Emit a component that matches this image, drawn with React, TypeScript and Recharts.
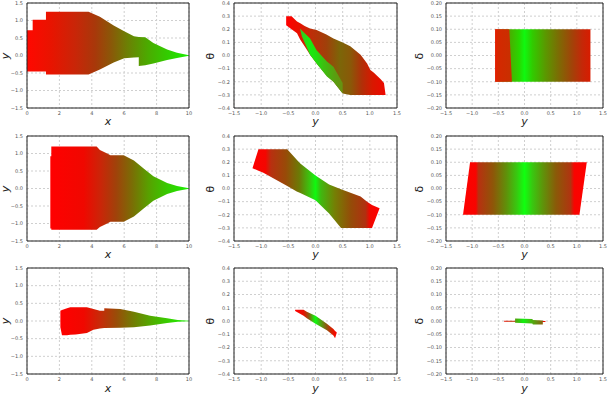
import React from 'react';
import { ComposedChart, Area, XAxis, YAxis, CartesianGrid, ReferenceArea } from 'recharts';

type Pt = [number, number, number];
type Stop = [number, string];

// ---- tick labels ----
const xTicksCol1 = [0, 2, 4, 6, 8, 10];
const yTicksCol1 = [-1.5, -1, -0.5, 0, 0.5, 1, 1.5];
const yTicksRow = [-1.5, -1, -0.5, 0, 0.5, 1, 1.5];
const thetaTicks = [-0.4, -0.3, -0.2, -0.1, 0, 0.1, 0.2, 0.3, 0.4];
const deltaTicks = [-0.2, -0.15, -0.1, -0.05, 0, 0.05, 0.1, 0.15, 0.2];

// ---- shapes: [abscissa, lower, upper] ----
const r1c1Shape: Pt[] = [
  [0, -0.46, 0.72], [0.35, -0.46, 0.72], [0.35, -0.46, 1.02], [1.17, -0.46, 1.02],
  [1.17, -0.54, 1.25], [3.8, -0.54, 1.25], [4.5, -0.4, 1.11], [5.35, -0.2, 0.86],
  [6.0, -0.08, 0.69], [6.6, -0.06, 0.55], [6.9, -0.05, 0.53], [6.9, -0.3, 0.53],
  [7.3, -0.28, 0.52], [7.8, -0.23, 0.36], [8.65, -0.13, 0.17], [9.26, -0.07, 0.08],
  [10, -0.01, 0.01],
];
const r2c1Shape: Pt[] = [
  [1.44, -1.14, 0.92], [1.5, -1.14, 0.92], [1.5, -1.18, 1.2], [4.3, -1.18, 1.2],
  [4.5, -1.1, 1.1], [4.95, -1.0, 1.0], [5.15, -0.95, 0.95], [5.97, -0.95, 0.95],
  [6.6, -0.8, 0.8], [7.2, -0.57, 0.57], [7.8, -0.35, 0.35], [8.65, -0.16, 0.16],
  [9.26, -0.07, 0.07], [10, -0.01, 0.01],
];
const r3c1Shape: Pt[] = [
  [2.06, -0.18, 0.29], [2.16, -0.4, 0.31], [2.47, -0.4, 0.36], [2.67, -0.39, 0.39],
  [3.0, -0.38, 0.39], [3.7, -0.34, 0.39], [4.1, -0.25, 0.34], [4.5, -0.21, 0.29],
  [4.77, -0.2, 0.29], [4.77, -0.2, 0.36], [5.76, -0.19, 0.34], [6.6, -0.18, 0.26],
  [7.6, -0.13, 0.15], [8.65, -0.06, 0.08], [9.3, -0.02, 0.03], [10, -0.005, 0.01],
];
const r1c2Outer: Pt[] = [
  [-0.54, 0.23, 0.3], [-0.44, 0.2, 0.3], [-0.34, 0.17, 0.26], [-0.28, 0.12, 0.245],
  [-0.2, 0.07, 0.225], [-0.1, 0.005, 0.205], [0.02, -0.06, 0.195], [0.2, -0.15, 0.16],
  [0.33, -0.2, 0.13], [0.5, -0.29, 0.1], [0.64, -0.3, 0.07], [0.83, -0.3, 0.005],
  [0.95, -0.3, -0.06], [1.01, -0.3, -0.11], [1.07, -0.3, -0.13], [1.2, -0.3, -0.18],
  [1.26, -0.3, -0.21], [1.29, -0.3, -0.3],
];
const r1c2Inner: Pt[] = [
  [-0.28, 0.195, 0.205], [-0.25, 0.145, 0.19], [-0.1, 0.005, 0.13], [0.02, -0.06, 0.04],
  [0.21, -0.16, -0.045], [0.33, -0.2, -0.085], [0.5, -0.29, -0.21],
];
const r2c2Shape: Pt[] = [
  [-1.16, 0.155, 0.155], [-1.05, 0.135, 0.3], [-0.96, 0.12, 0.3], [-0.52, 0.02, 0.3],
  [-0.345, -0.023, 0.22], [-0.28, -0.035, 0.19], [0.0, -0.09, 0.1], [0.25, -0.19, 0.03],
  [0.47, -0.3, -0.005], [0.83, -0.3, -0.06], [0.95, -0.3, -0.1], [1.04, -0.3, -0.125],
  [1.18, -0.15, -0.15],
];
const r3c2Shape: Pt[] = [
  [-0.375, 0.075, 0.085], [-0.22, 0.04, 0.085], [-0.16, 0.02, 0.07], [0.0, -0.02, 0.04],
  [0.21, -0.07, -0.02], [0.33, -0.11, -0.06], [0.36, -0.13, -0.075], [0.39, -0.09, -0.085],
];
const r1c3Rect: Pt[] = [[-0.56, -0.1, 0.1], [1.26, -0.1, 0.1]];
const r1c3Strip: Pt[] = [[-0.56, -0.1, 0.1], [-0.29, -0.1, 0.1], [-0.24, -0.1, -0.1]];
const r2c3Shape: Pt[] = [[-1.175, -0.1, -0.1], [-1.04, -0.1, 0.1], [1.05, -0.1, 0.1], [1.19, 0.1, 0.1]];
const r3c3Line: Pt[] = [[-0.39, -0.003, 0.001], [0.4, -0.004, 0.0]];
const r3c3Block: Pt[] = [
  [-0.18, -0.007, 0.009], [0.15, -0.009, 0.008], [0.16, -0.013, 0.004], [0.35, -0.013, 0.002],
];

// ---- colour stops (style) ----
const c11: Stop[] = [[0, '#ff0800'], [1.5, '#e81400'], [3, '#c82608'], [4.2, '#a8380a'], [5.2, '#8a5808'], [6.2, '#6c8004'], [7.5, '#4aac00'], [8.8, '#30d000'], [10, '#1aee00']];
const c21: Stop[] = [[1.44, '#ff0000'], [3.5, '#f00800'], [4.5, '#cc2408'], [5.5, '#a0420a'], [6.5, '#7a6e05'], [7.5, '#58a000'], [8.7, '#36cc00'], [10, '#1aee00']];
const c31: Stop[] = [[2.06, '#ff0000'], [3.5, '#f00800'], [4.5, '#c82a08'], [5.5, '#9a4c08'], [6.5, '#747a04'], [7.8, '#4eb000'], [9, '#30d800'], [10, '#18f000']];
const c12o: Stop[] = [[-0.54, '#ff0000'], [-0.3, '#e81000'], [-0.1, '#c02c08'], [0.2, '#a0400a'], [0.45, '#7c6608'], [0.65, '#8a5808'], [0.85, '#b03008'], [1.05, '#d81800'], [1.29, '#ee0800']];
const c12i: Stop[] = [[-0.28, '#3cc020'], [-0.12, '#18ec10'], [0, '#20e010'], [0.15, '#3cc010'], [0.35, '#58a010'], [0.5, '#689010']];
const c22: Stop[] = [[-1.16, '#ff0000'], [-0.92, '#f40600'], [-0.82, '#b83010'], [-0.55, '#984a08'], [-0.3, '#6c7a06'], [-0.1, '#38c810'], [0, '#10f810'], [0.1, '#40b810'], [0.35, '#748004'], [0.65, '#944c08'], [0.92, '#b03010'], [1.0, '#f00800'], [1.18, '#ff0000']];
const c32: Stop[] = [[-0.375, '#ff0000'], [-0.22, '#e81000'], [-0.12, '#8a5a10'], [-0.04, '#30d010'], [0, '#10f810'], [0.08, '#48b010'], [0.2, '#8a5a10'], [0.3, '#d82000'], [0.39, '#ff0000']];
const c13r: Stop[] = [[-0.56, '#cc2a00'], [-0.27, '#48b000'], [-0.1, '#28d800'], [0, '#10f810'], [0.15, '#30cc00'], [0.4, '#5a9800'], [0.65, '#7c6c04'], [0.9, '#a04408'], [1.1, '#c42808'], [1.26, '#d81c00']];
const c13s: Stop[] = [[-0.56, '#e81c00'], [-0.5, '#d42800'], [-0.24, '#c83000']];
const c23: Stop[] = [[-1.175, '#ff0000'], [-0.93, '#f80400'], [-0.88, '#b83010'], [-0.6, '#8e5608'], [-0.35, '#60900a'], [-0.15, '#38c810'], [0, '#10ff10'], [0.15, '#38c810'], [0.35, '#5e940a'], [0.6, '#8a5a08'], [0.88, '#b03410'], [0.95, '#f80400'], [1.19, '#ff0000']];
const c33l: Stop[] = [[-0.39, '#e81000'], [0, '#8a5a08'], [0.4, '#f00800']];
const c33b: Stop[] = [[-0.18, '#5a9a10'], [-0.02, '#10f010'], [0.1, '#40c010'], [0.35, '#8a6010']];

type Series = { key: string; pts: Pt[]; stops: Stop[] };
type Cfg = {
  id: string; col: number; row: number;
  xDomain: [number, number]; yDomain: [number, number];
  xTicks: number[]; yTicks: number[]; xDec: number; yDec: number;
  xTitle: string; yTitle: string; series: Series[];
};

const MT = 3;
const MR = 5;
const XH = 14;
const cols = [
  { L: 0, W: 194, YW: 27, titleX: 6 },
  { L: 200, W: 202, YW: 34, titleX: 211 },
  { L: 408, W: 200, YW: 38, titleX: 420 },
];
const rows = [
  { T: 0, H: 122, titleY: 122 },
  { T: 133, H: 122, titleY: 255 },
  { T: 265, H: 123, titleY: 389 },
];

const fmt = (d: number) => (v: number) => {
  const s = Math.abs(v).toFixed(d);
  return v < -1e-9 ? '\u2212' + s : s;
};

const panels: Cfg[] = [
  { id: 'p11', col: 0, row: 0, xDomain: [0, 10], yDomain: [-1.5, 1.5], xTicks: xTicksCol1, yTicks: yTicksCol1, xDec: 0, yDec: 1, xTitle: 'x', yTitle: 'y', series: [{ key: 'a', pts: r1c1Shape, stops: c11 }] },
  { id: 'p12', col: 1, row: 0, xDomain: [-1.5, 1.5], yDomain: [-0.4, 0.4], xTicks: yTicksRow, yTicks: thetaTicks, xDec: 1, yDec: 1, xTitle: 'y', yTitle: 'θ', series: [{ key: 'a', pts: r1c2Outer, stops: c12o }, { key: 'b', pts: r1c2Inner, stops: c12i }] },
  { id: 'p13', col: 2, row: 0, xDomain: [-1.5, 1.5], yDomain: [-0.2, 0.2], xTicks: yTicksRow, yTicks: deltaTicks, xDec: 1, yDec: 2, xTitle: 'y', yTitle: 'δ', series: [{ key: 'a', pts: r1c3Rect, stops: c13r }, { key: 'b', pts: r1c3Strip, stops: c13s }] },
  { id: 'p21', col: 0, row: 1, xDomain: [0, 10], yDomain: [-1.5, 1.5], xTicks: xTicksCol1, yTicks: yTicksCol1, xDec: 0, yDec: 1, xTitle: 'x', yTitle: 'y', series: [{ key: 'a', pts: r2c1Shape, stops: c21 }] },
  { id: 'p22', col: 1, row: 1, xDomain: [-1.5, 1.5], yDomain: [-0.4, 0.4], xTicks: yTicksRow, yTicks: thetaTicks, xDec: 1, yDec: 1, xTitle: 'y', yTitle: 'θ', series: [{ key: 'a', pts: r2c2Shape, stops: c22 }] },
  { id: 'p23', col: 2, row: 1, xDomain: [-1.5, 1.5], yDomain: [-0.2, 0.2], xTicks: yTicksRow, yTicks: deltaTicks, xDec: 1, yDec: 2, xTitle: 'y', yTitle: 'δ', series: [{ key: 'a', pts: r2c3Shape, stops: c23 }] },
  { id: 'p31', col: 0, row: 2, xDomain: [0, 10], yDomain: [-1.5, 1.5], xTicks: xTicksCol1, yTicks: yTicksCol1, xDec: 0, yDec: 1, xTitle: 'x', yTitle: 'y', series: [{ key: 'a', pts: r3c1Shape, stops: c31 }] },
  { id: 'p32', col: 1, row: 2, xDomain: [-1.5, 1.5], yDomain: [-0.4, 0.4], xTicks: yTicksRow, yTicks: thetaTicks, xDec: 1, yDec: 1, xTitle: 'y', yTitle: 'θ', series: [{ key: 'a', pts: r3c2Shape, stops: c32 }] },
  { id: 'p33', col: 2, row: 2, xDomain: [-1.5, 1.5], yDomain: [-0.2, 0.2], xTicks: yTicksRow, yTicks: deltaTicks, xDec: 1, yDec: 2, xTitle: 'y', yTitle: 'δ', series: [{ key: 'a', pts: r3c3Line, stops: c33l }, { key: 'b', pts: r3c3Block, stops: c33b }] },
];

function buildRows(series: Series[]) {
  const out: any[] = [];
  series.forEach((s) => s.pts.forEach((p) => out.push({ x: p[0], [s.key]: [p[1], p[2]] })));
  return out.map((r, i) => ({ r, i })).sort((a, b) => a.r.x - b.r.x || a.i - b.i).map((o) => o.r);
}

function gradStops(s: Series) {
  const xs = s.pts.map((p) => p[0]);
  const lo = Math.min(...xs);
  const hi = Math.max(...xs);
  return s.stops.map(([v, c], i) => {
    const off = Math.max(0, Math.min(1, (v - lo) / (hi - lo)));
    return <stop key={i} offset={off} stopColor={c} />;
  });
}

const tickStyle = { fontSize: 5, fill: '#555', fontFamily: 'DejaVu Sans' };
const titleFont = '"DejaVu Sans", sans-serif';

function Panel({ cfg }: { cfg: Cfg }) {
  const c = cols[cfg.col];
  const r = rows[cfg.row];
  const data = buildRows(cfg.series);
  const plotL = c.L + c.YW;
  const plotR = c.L + c.W - MR;
  const plotT = r.T + MT;
  const plotB = r.T + r.H - XH;
  return (
    <>
      <div style={{ position: 'absolute', left: c.L, top: r.T, width: c.W, height: r.H }}>
        <ComposedChart width={c.W} height={r.H} data={data} margin={{ top: MT, right: MR, left: 0, bottom: 0 }}>
          <defs>
            {cfg.series.map((s) => (
              <linearGradient key={s.key} id={`${cfg.id}${s.key}`} x1="0" y1="0" x2="1" y2="0">
                {gradStops(s)}
              </linearGradient>
            ))}
          </defs>
          <CartesianGrid strokeDasharray="2 2" stroke="#cfcfcf" />
          <XAxis
            type="number"
            dataKey="x"
            domain={cfg.xDomain}
            ticks={cfg.xTicks}
            interval={0}
            allowDataOverflow
            tickFormatter={fmt(cfg.xDec)}
            tickLine={false}
            axisLine={false}
            height={XH}
            tickSize={3}
            tickMargin={0}
            tick={tickStyle}
          />
          <YAxis
            type="number"
            domain={cfg.yDomain}
            ticks={cfg.yTicks}
            interval={0}
            allowDataOverflow
            tickFormatter={fmt(cfg.yDec)}
            tickLine={false}
            axisLine={false}
            width={c.YW}
            tickSize={3}
            tickMargin={1}
            tick={tickStyle}
          />
          {cfg.series.map((s) => (
            <Area
              key={s.key}
              type="linear"
              dataKey={s.key}
              stroke="none"
              fill={`url(#${cfg.id}${s.key})`}
              fillOpacity={1}
              connectNulls
              dot={false}
              activeDot={false}
              isAnimationActive={false}
            />
          ))}
          <ReferenceArea
            x1={cfg.xDomain[0]}
            x2={cfg.xDomain[1]}
            y1={cfg.yDomain[0]}
            y2={cfg.yDomain[1]}
            fill="none"
            fillOpacity={0}
            stroke="#222"
            strokeWidth={1}
            ifOverflow="visible"
          />
        </ComposedChart>
      </div>
      <div
        style={{
          position: 'absolute',
          left: (plotL + plotR) / 2 - 8,
          width: 16,
          top: r.titleY - 5,
          height: 10,
          lineHeight: '10px',
          textAlign: 'center',
          fontFamily: titleFont,
          fontStyle: 'italic',
          fontSize: 11,
          color: '#222',
        }}
      >
        {cfg.xTitle}
      </div>
      <div
        style={{
          position: 'absolute',
          left: c.titleX - 6,
          width: 12,
          top: (plotT + plotB) / 2 - 6,
          height: 12,
          lineHeight: '12px',
          textAlign: 'center',
          fontFamily: titleFont,
          fontStyle: cfg.yTitle === 'y' ? 'italic' : 'normal',
          fontSize: 11,
          color: '#222',
          transform: 'rotate(-90deg)',
        }}
      >
        {cfg.yTitle}
      </div>
    </>
  );
}

export default function App() {
  return (
    <div style={{ position: 'absolute', left: 0, top: 0, width: 608, height: 394, background: '#fff', overflow: 'hidden' }}>
      {panels.map((p) => (
        <Panel key={p.id} cfg={p} />
      ))}
    </div>
  );
}
